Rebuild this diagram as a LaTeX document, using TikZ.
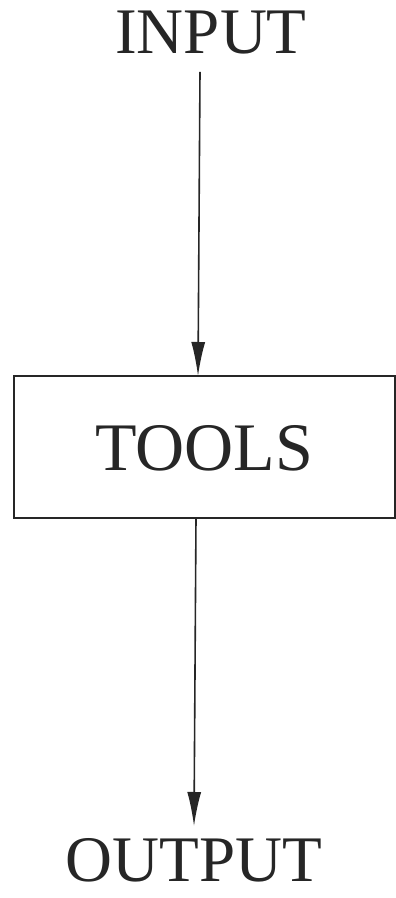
\documentclass[tikz,border=0pt]{standalone}
\usepackage{fontspec}
\setmainfont{Liberation Serif}
\usetikzlibrary{arrows.meta}
\begin{document}
\begin{tikzpicture}[x=1pt,y=1pt,
  lbl/.style={inner sep=0pt,font=\fontsize{65}{70}\selectfont,text=black!85},
  conn/.style={line width=1.6pt,draw=black!85,-{Latex[length=34pt,width=14pt]}},
  boxline/.style={line width=1.6pt,draw=black!85}]
\useasboundingbox (0,0) rectangle (396,898);
\node[lbl] (in) at (211,865) {INPUT};
\node[lbl,font=\fontsize{68}{72}\selectfont] (toolstxt) at (204,450) {TOOLS};
\node[boxline,draw,minimum width=381pt,minimum height=142pt,inner sep=0pt] (tools) at (204.5,451) {};
\node[lbl] (out) at (194,38) {OUTPUT};
\coordinate (a1) at (200,826);
\coordinate (a1e) at (198,522);
\coordinate (a2) at (196,380);
\coordinate (a2e) at (194,72);
\draw[conn] (a1) -- (a1e);
\draw[conn] (a2) -- (a2e);
\end{tikzpicture}
\end{document}
